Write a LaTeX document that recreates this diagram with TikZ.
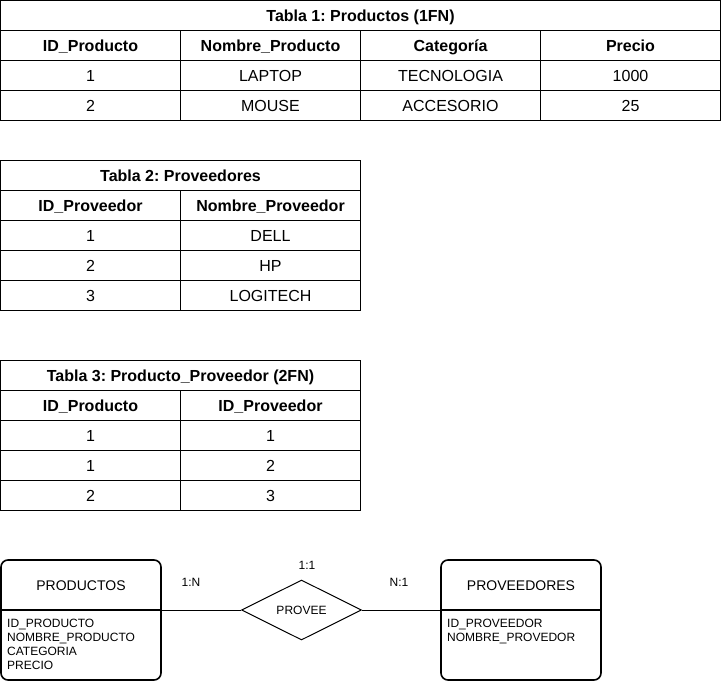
\documentclass[tikz,border=0pt]{standalone}
\usepackage{fontspec}
\setmainfont{Liberation Sans}
\usetikzlibrary{shapes.geometric}
\frenchspacing
\tikzset{
  cell/.style={draw, line width=1pt, minimum width=180pt, minimum height=30pt, inner sep=0pt, text height=11.5pt, text depth=0pt, font=\fontsize{16}{19}\selectfont},
  hcell/.style={cell, font=\bfseries\fontsize{16}{19}\selectfont},
  entity/.style={draw, line width=1.6pt, rounded corners=7pt, minimum width=160pt, minimum height=120pt, inner sep=0pt},
  etitle/.style={inner sep=0pt, text height=10pt, text depth=0pt, font=\fontsize{14}{16}\selectfont},
  attr/.style={inner sep=0pt, anchor=west, text height=8.6pt, text depth=0pt, font=\fontsize{12}{14}\selectfont},
  lbl/.style={inner sep=0pt, text height=8.6pt, text depth=0pt, font=\fontsize{12}{14}\selectfont},
  rel/.style={draw, diamond, line width=1pt, minimum width=120pt, minimum height=60pt, inner sep=0pt, aspect=2, text height=8.6pt, text depth=0pt, font=\fontsize{12}{14}\selectfont},
  conn/.style={line width=1pt}
}
\begin{document}
\begin{tikzpicture}[x=1pt,y=-1pt]
\useasboundingbox (0,0) rectangle (722,682);
% Table 1
\node[hcell, minimum width=720pt] (t1title) at (360.5,15.5) {Tabla 1: Productos (1FN)};
\node[hcell] (t1h1) at (90.5,45.5) {ID\_Producto};
\node[hcell] (t1h2) at (270.5,45.5) {Nombre\_Producto};
\node[hcell] (t1h3) at (450.5,45.5) {Categoría};
\node[hcell] (t1h4) at (630.5,45.5) {Precio};
\node[cell] (t1a1) at (90.5,75.5) {1};
\node[cell] (t1a2) at (270.5,75.5) {LAPTOP};
\node[cell] (t1a3) at (450.5,75.5) {TECNOLOGIA};
\node[cell] (t1a4) at (630.5,75.5) {1000};
\node[cell] (t1b1) at (90.5,105.5) {2};
\node[cell] (t1b2) at (270.5,105.5) {MOUSE};
\node[cell] (t1b3) at (450.5,105.5) {ACCESORIO};
\node[cell] (t1b4) at (630.5,105.5) {25};
% Table 2
\node[hcell, minimum width=360pt] (t2title) at (180.5,175.5) {Tabla 2: Proveedores};
\node[hcell] (t2h1) at (90.5,205.5) {ID\_Proveedor};
\node[hcell] (t2h2) at (270.5,205.5) {Nombre\_Proveedor};
\node[cell] (t2a1) at (90.5,235.5) {1};
\node[cell] (t2a2) at (270.5,235.5) {DELL};
\node[cell] (t2b1) at (90.5,265.5) {2};
\node[cell] (t2b2) at (270.5,265.5) {HP};
\node[cell] (t2c1) at (90.5,295.5) {3};
\node[cell] (t2c2) at (270.5,295.5) {LOGITECH};
% Table 3
\node[hcell, minimum width=360pt] (t3title) at (180.5,375.5) {Tabla 3: Producto\_Proveedor (2FN)};
\node[hcell] (t3h1) at (90.5,405.5) {ID\_Producto};
\node[hcell] (t3h2) at (270.5,405.5) {ID\_Proveedor};
\node[cell] (t3a1) at (90.5,435.5) {1};
\node[cell] (t3a2) at (270.5,435.5) {1};
\node[cell] (t3b1) at (90.5,465.5) {1};
\node[cell] (t3b2) at (270.5,465.5) {2};
\node[cell] (t3c1) at (90.5,495.5) {2};
\node[cell] (t3c2) at (270.5,495.5) {3};
% ER diagram
\node[entity] (prod) at (81,620) {};
\coordinate (pdivl) at (1,610);
\coordinate (pdivr) at (161,610);
\draw[line width=1.6pt] (pdivl) -- (pdivr);
\node[etitle] (prodname) at (81,585) {PRODUCTOS};
\node[attr] (pa1) at (7,623) {ID\_PRODUCTO};
\node[attr] (pa2) at (7,637) {NOMBRE\_PRODUCTO};
\node[attr] (pa3) at (7,651) {CATEGORIA};
\node[attr] (pa4) at (7,665) {PRECIO};
\node[entity] (prov) at (521,620) {};
\coordinate (vdivl) at (441,610);
\coordinate (vdivr) at (601,610);
\draw[line width=1.6pt] (vdivl) -- (vdivr);
\node[etitle] (provname) at (521,585) {PROVEEDORES};
\node[attr] (va1) at (447,623) {ID\_PROVEEDOR};
\node[attr] (va2) at (447,637) {NOMBRE\_PROVEDOR};
\node[rel] (provee) at (301.5,610) {PROVEE};
\draw[conn] (provee.west) -- (pdivr);
\draw[conn] (provee.east) -- (vdivl);
\node[lbl] (l11) at (307,565) {1:1};
\node[lbl] (l1n) at (191,582) {1:N};
\node[lbl] (ln1) at (399,582) {N:1};
\end{tikzpicture}
\end{document}
